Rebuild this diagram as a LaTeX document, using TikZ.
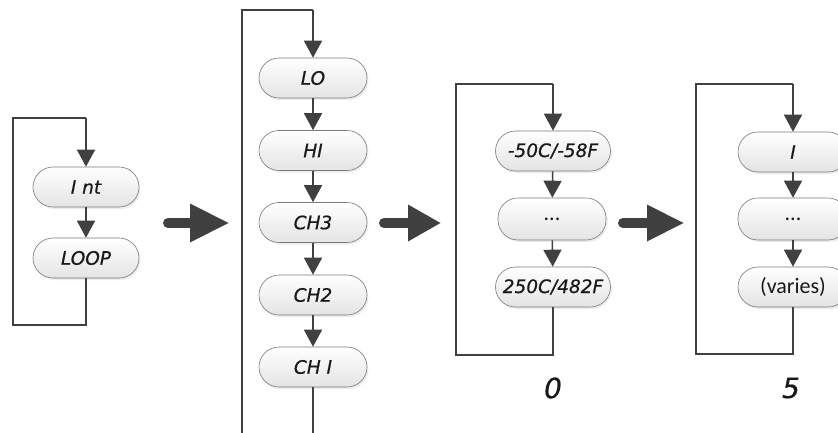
\documentclass[tikz,border=0pt]{standalone}
\usepackage{fontspec}
\setmainfont{Carlito}
\newfontfamily\segfont{DejaVu Sans}[FakeBold=0.6]
\usetikzlibrary{arrows.meta,shadows}
\definecolor{linec}{HTML}{404040}
\definecolor{boxborder}{HTML}{7A7A7A}
\definecolor{boxbot}{HTML}{E4E4E4}
\begin{document}
\begin{tikzpicture}[x=1pt,y=-1pt,
  flow/.style={draw=linec, line width=1.6pt},
  arr/.style={flow,-{Triangle[width=18pt,length=17pt]}},
  box/.style={draw=boxborder, line width=0.6pt, rounded corners=20pt,
    top color=white, bottom color=boxbot, minimum height=40pt,
    minimum width=108pt, inner sep=0pt, text=black!90,
    font=\segfont\itshape\fontsize{18.5}{18.5}\selectfont,
    drop shadow={shadow xshift=1.5pt, shadow yshift=-2pt, opacity=0.15}},
  wbox/.style={box, minimum width=115pt},
  plain/.style={font=\fontsize{22}{22}\selectfont},
  biglabel/.style={text=black!90, font=\segfont\itshape\fontsize{28}{28}\selectfont},
  bigshaft/.style={draw=linec, line width=10pt, line cap=round},
  bighead/.style={fill=linec}
]
\useasboundingbox[fill=white] (0,0) rectangle (838,433);

% column 1
\node[box, minimum width=106pt] (int) at (86,187) {I nt};
\node[box, minimum width=106pt] (loop) at (86,258) {LOOP};
\coordinate (a1) at (86,325);
\coordinate (a2) at (13,325);
\coordinate (a3) at (13,118);
\coordinate (a4) at (86,118);
\draw[arr] (int) -- (loop);
\draw[flow] (loop.south) -- (a1) -- (a2) -- (a3) -- (a4);
\draw[arr] (a4) -- (int.north);

% big arrow 1
\draw[bigshaft] (168,223) -- (192,223);
\fill[bighead] (190,203.5) -- (228.5,223) -- (190,242.5) -- cycle;

% column 2
\node[box] (lo) at (313,78) {LO};
\node[box] (hi) at (313,150.5) {HI};
\node[box] (ch3) at (313,222.5) {CH3};
\node[box] (ch2) at (313,295) {CH2};
\node[box] (ch1) at (313,367) {CH I};
\coordinate (b1) at (313,433);
\coordinate (b2) at (242,433);
\coordinate (b3) at (242,10);
\coordinate (b4) at (313,10);
\draw[arr] (lo) -- (hi);
\draw[arr] (hi) -- (ch3);
\draw[arr] (ch3) -- (ch2);
\draw[arr] (ch2) -- (ch1);
\draw[flow] (ch1.south) -- (b1);
\draw[flow] (b2) -- (b3) -- (b4);
\draw[arr] (b4) -- (lo.north);

% big arrow 2
\draw[bigshaft] (384,223) -- (410,223);
\fill[bighead] (408,204.5) -- (440.5,223) -- (408,241.5) -- cycle;

% column 3
\node[wbox] (t1) at (553,151) {-50C/-58F};
\node[box, minimum height=42pt, plain] (t2) at (552,219) {...};
\node[wbox] (t3) at (553,287) {250C/482F};
\coordinate (c1) at (553,355);
\coordinate (c2) at (456,355);
\coordinate (c3) at (456,84);
\coordinate (c4) at (553,84);
\draw[arr] (t1) -- (t2);
\draw[arr] (t2) -- (t3);
\draw[flow] (t3.south) -- (c1) -- (c2) -- (c3) -- (c4);
\draw[arr] (c4) -- (t1.north);
\node[biglabel] (l0) at (553,388) {0};

% big arrow 3
\draw[bigshaft] (623,223) -- (649,223);
\fill[bighead] (647,204.5) -- (683.5,223) -- (647,241.5) -- cycle;

% column 4
\node[box, minimum width=110pt] (v1) at (793,152) {I};
\node[box, minimum width=110pt, minimum height=42pt, plain] (v2) at (793,219) {...};
\node[box, minimum width=110pt, plain] (v3) at (793,287) {(varies)};
\coordinate (d1) at (793,354);
\coordinate (d2) at (696,354);
\coordinate (d3) at (696,84);
\coordinate (d4) at (793,84);
\draw[arr] (v1) -- (v2);
\draw[arr] (v2) -- (v3);
\draw[flow] (v3.south) -- (d1) -- (d2) -- (d3) -- (d4);
\draw[arr] (d4) -- (v1.north);
\node[biglabel] (l5) at (791,388) {5};
\end{tikzpicture}
\end{document}
